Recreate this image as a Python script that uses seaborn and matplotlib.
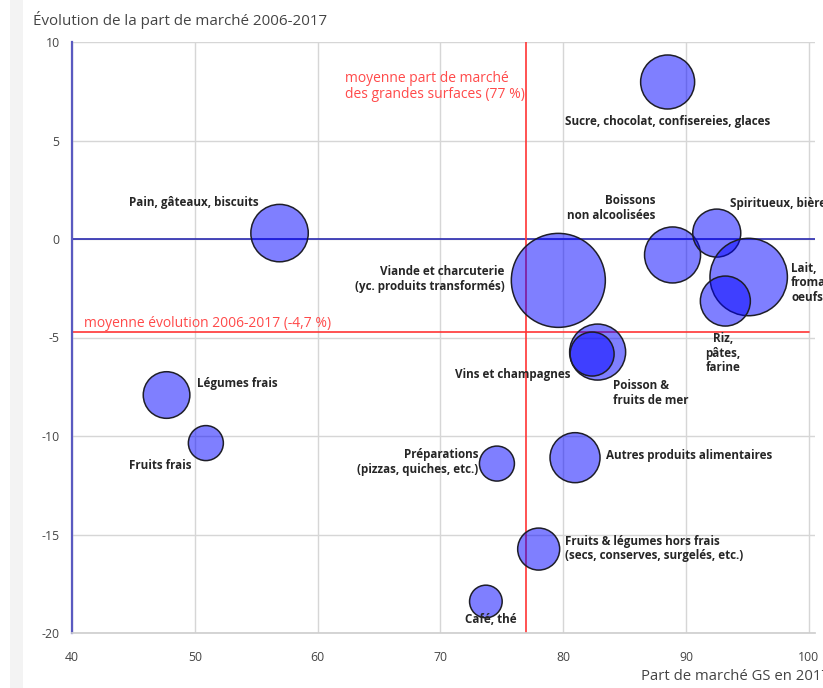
import matplotlib
matplotlib.use("Agg")
import matplotlib.pyplot as plt
import seaborn as sns
import pandas as pd
from matplotlib.patches import Rectangle

# ---- data ----
categories = [
    "Sucre, chocolat, confisereies, glaces",
    "Pain, gâteaux, biscuits",
    "Viande et charcuterie\n(yc. produits transformés)",
    "Boissons\nnon alcoolisées",
    "Spiritueux, bières",
    "Lait,\nfromages,\noeufs",
    "Riz,\npâtes,\nfarine",
    "Poisson &\nfruits de mer",
    "Vins et champagnes",
    "Légumes frais",
    "Fruits frais",
    "Préparations\n(pizzas, quiches, etc.)",
    "Autres produits alimentaires",
    "Fruits & légumes hors frais\n(secs, conserves, surgelés, etc.)",
    "Café, thé",
]
part_marche = [88.5, 56.9, 79.6, 88.9, 92.5, 95.1, 93.2, 82.8, 82.35, 47.7, 50.9, 74.6, 80.96, 78.0, 73.7]
evolution = [7.97, 0.3, -2.1, -0.81, 0.3, -1.93, -3.15, -5.74, -5.84, -7.92, -10.36, -11.4, -11.1, -15.74, -18.4]
poids = [729, 824, 2209, 784, 576, 1498, 625, 784, 484, 543, 306, 306, 625, 441, 266]

# label anchors (data coords) and alignment
label_x = [88.5, 55.2, 75.2, 87.5, 93.6, 98.55, 93.0, 84.05, 80.6, 50.2, 49.7, 73.06, 83.5, 80.15, 74.1]
label_y = [5.94, 1.83, -2.03, 1.57, 1.78, -2.23, -5.79, -7.82, -6.9, -7.31, -11.52, -11.32, -11.0, -15.7, -19.34]
label_ha = ["center", "right", "right", "right", "left", "left", "center", "left", "right",
            "left", "right", "right", "left", "left", "center"]

moy_part = 77
moy_evol = -4.7

x_ticks = [40, 50, 60, 70, 80, 90, 100]
y_ticks = [10, 5, 0, -5, -10, -15, -20]

df = pd.DataFrame({"cat": categories, "x": part_marche, "y": evolution, "w": poids})

# ---- figure ----
sns.set_theme(style="white")
plt.rcParams["font.family"] = ["Open Sans", "DejaVu Sans"]
plt.rcParams["axes.unicode_minus"] = False

W, H = 823, 688
fig = plt.figure(figsize=(W / 100, H / 100), dpi=100)
fig.patch.set_facecolor("white")
fig.patches.append(Rectangle((10 / W, 0), 13 / W, 1, transform=fig.transFigure,
                             facecolor="#f3f3f3", edgecolor="none", zorder=0))

ax = fig.add_axes([72 / W, (H - 633) / H, (815 - 72) / W, (633 - 42) / H])
ax.set_facecolor("white")

# reference lines
ax.axhline(0, color="#2a2ab0", lw=1.2, zorder=1)
ax.axvline(moy_part, color="#ff3535", lw=1.2, zorder=1)
ax.plot([40, 100], [moy_evol, moy_evol], color="#ff3535", lw=1.2, zorder=1)

sizes = [(1.44 * (w ** 0.5)) ** 2 for w in df["w"]]
sns.scatterplot(data=df, x="x", y="y", s=sizes, color=(0, 0, 1, 0.5),
                edgecolor="#1e1e28", linewidth=1.1, legend=False, ax=ax, zorder=3)
for c in ax.collections:
    c.set_facecolor((0, 0, 1, 0.5))
    c.set_edgecolor("#1e1e28")

for lab, lx, ly, ha in zip(categories, label_x, label_y, label_ha):
    ax.text(lx, ly, lab, ha=ha, va="center", fontsize=8.4, fontweight="bold",
            color="#262626", linespacing=1.15, zorder=4, clip_on=False,
            multialignment=ha)

ax.text(62.2, 7.75, "moyenne part de marché\ndes grandes surfaces (77 %)", color="#ff4a4a",
        fontsize=10, ha="left", va="center", linespacing=1.15)
ax.text(40.95, -4.3, "moyenne évolution 2006-2017 (-4,7 %)", color="#ff4a4a",
        fontsize=10, ha="left", va="center")

ax.set_xlim(40, 100.5)
ax.set_ylim(-20, 10)
ax.set_xticks(x_ticks)
ax.set_yticks(y_ticks)
ax.set_xticklabels([str(t) for t in x_ticks])
ax.set_yticklabels([str(t) for t in y_ticks])
ax.grid(True, color="#d6d6d6", lw=1)
ax.set_axisbelow(True)
for s in ["top", "right"]:
    ax.spines[s].set_visible(False)
ax.spines["left"].set_color("#5a5ac0")
ax.spines["left"].set_linewidth(1.6)
ax.spines["left"].set_zorder(2)
ax.spines["bottom"].set_color("#cfcfcf")
ax.tick_params(axis="both", which="both", length=5, width=1, color="#cfcfcf",
               labelcolor="#444444", labelsize=8.8, direction="out", pad=4)
ax.tick_params(axis="x", pad=8)
ax.set_xlabel("")
ax.set_ylabel("")

fig.text(33 / W, 1 - 20 / H, "Évolution de la part de marché 2006-2017", fontsize=10.9,
         color="#444444", ha="left", va="center")
fig.text(641 / W, 1 - 676 / H, "Part de marché GS en 2017", fontsize=10.75,
         color="#444444", ha="left", va="center")

fig.savefig("out.png", dpi=100)
